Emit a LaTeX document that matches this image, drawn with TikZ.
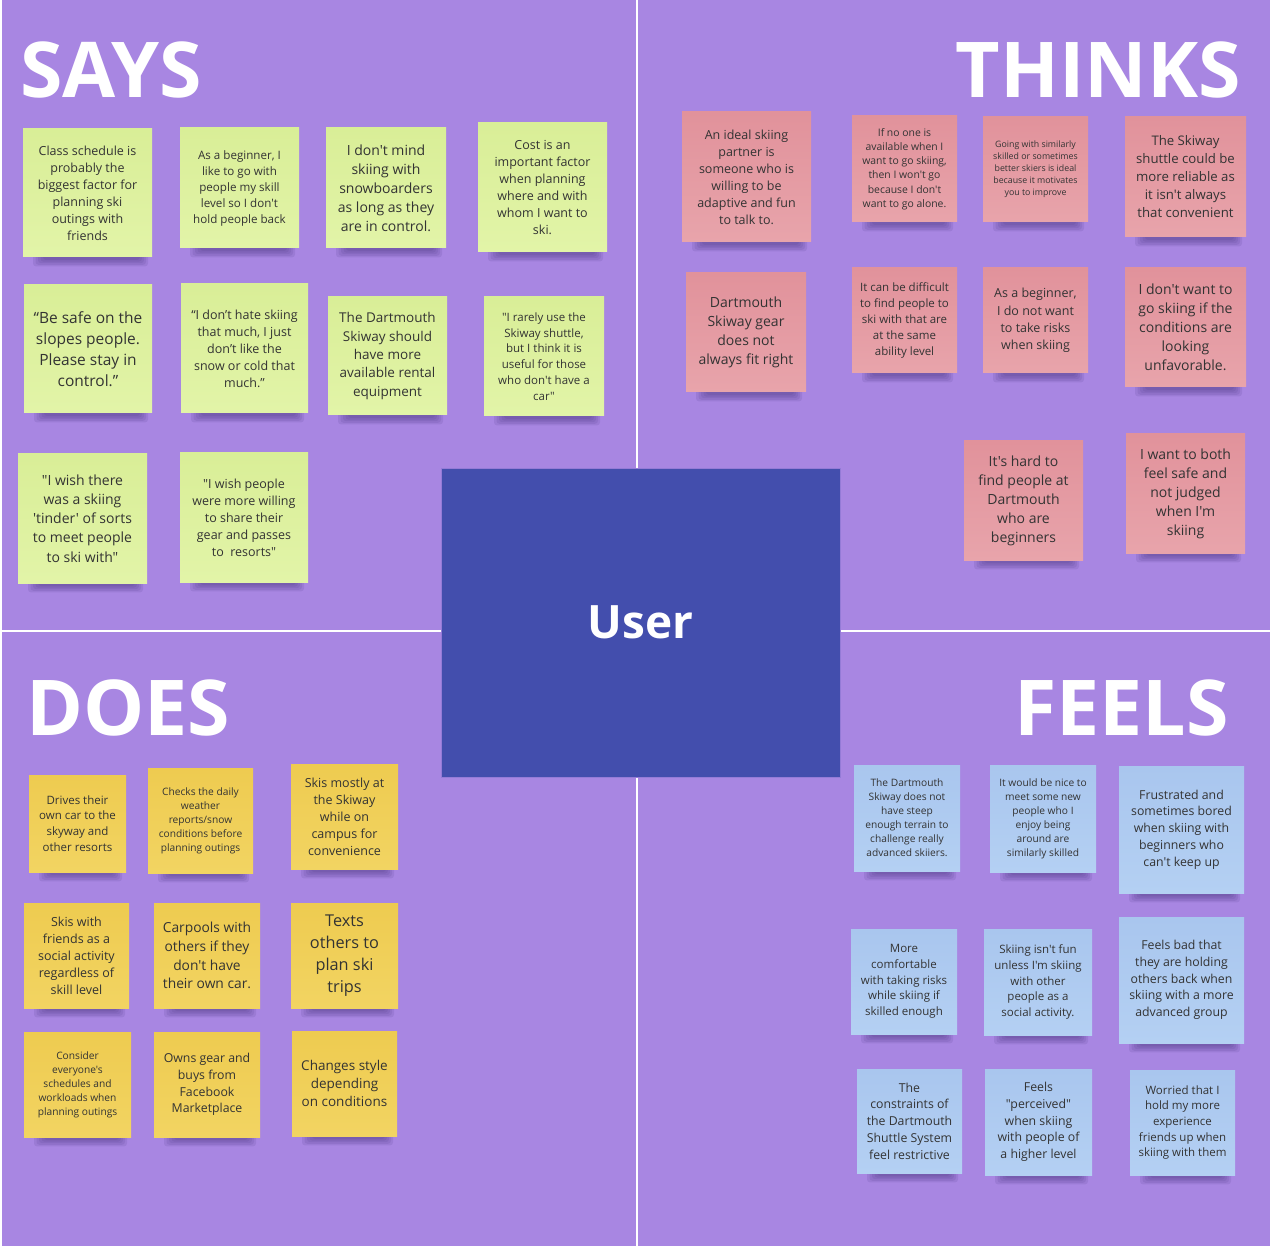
\documentclass[tikz,border=0pt]{standalone}
\usepackage{fontspec}
\setmainfont{Open Sans}[Ligatures=TeXOff]
\definecolor{bgp}{HTML}{A886E2}
\definecolor{userc}{HTML}{434EAD}
\definecolor{txt}{HTML}{333333}
\definecolor{shc}{HTML}{4A3580}
\definecolor{gT}{HTML}{D9EE97}
\definecolor{gB}{HTML}{E2F4A8}
\definecolor{pT}{HTML}{E1929B}
\definecolor{pB}{HTML}{E8A4AB}
\definecolor{yT}{HTML}{EECB50}
\definecolor{yB}{HTML}{F2D462}
\definecolor{bT}{HTML}{A9C6EE}
\definecolor{bB}{HTML}{B4D0F3}
\tikzset{
  note/.style={inner sep=0pt, align=center, text=txt},
  gnote/.style={note, top color=gT, bottom color=gB},
  pnote/.style={note, top color=pT, bottom color=pB},
  ynote/.style={note, top color=yT, bottom color=yB},
  bnote/.style={note, top color=bT, bottom color=bB},
  shadowlayer/.style={fill=shc, opacity=0.13, rounded corners=3pt},
  title/.style={inner sep=0pt, text=white, font=\fontsize{77}{90}\selectfont\bfseries},
  divider/.style={white, line width=2pt},
}
\newcommand\fz[2]{\fontsize{#1}{#2}\selectfont}
\newcommand\stk[8]{%
  \foreach \k in {0,...,4}{%
    \path[shadowlayer] ({#3+20-2.5*\k},{#6-4}) rectangle ({#5-12+2*\k},{#6+3+1.6*\k});
  }
  \node[#2, minimum width={#5-#3}, minimum height={#6-#4}, font=#7] (#1) at ({(#3+#5)/2},{(#4+#6)/2}) {#8};
}
\begin{document}
\begin{tikzpicture}[x=1pt, y=-1pt]
\useasboundingbox (0,0) rectangle (1270,1246);
\fill[bgp] (0,0) rectangle (1270,1246);
\fill[white] (0,0) rectangle (2,1246);
\draw[divider] (637,0) -- (637,1246);
\draw[divider] (0,630.5) -- (1270,630.5);

% titles
\node[title, anchor=base west] (says) at (20,98) {SAYS};
\node[title, anchor=base east] (thinks) at (1241,98) {THINKS};
\node[title, anchor=base west] (does) at (26,735) {DOES};
\node[title, anchor=base east] (feels) at (1229,735) {FEELS};

% user
\node[fill=userc, draw=bgp!80!userc, line width=0.6pt, minimum width=399, minimum height=309, inner sep=0pt,
      text=white, font=\fontsize{46}{50}\selectfont\bfseries] (user) at (640.5,622.5) {User};

% SAYS
\stk{s1}{gnote}{23}{129}{152}{257}{\fz{12.5}{17}}{Class schedule is\\probably the\\biggest factor for\\planning ski\\outings with\\friends}
\stk{s2}{gnote}{180}{128}{299}{248}{\fz{11.6}{16}}{As a beginner, I\\like to go with\\people my skill\\level so I don't\\hold people back}
\stk{s3}{gnote}{326}{128}{446}{248}{\fz{14}{19}}{I don't mind\\skiing with\\snowboarders\\as long as they\\are in control.}
\stk{s4}{gnote}{478}{123}{607}{252}{\fz{12.5}{17}}{Cost is an\\important factor\\when planning\\where and with\\whom I want to\\ski.}
\stk{s5}{gnote}{24}{285}{152}{413}{\fz{15.5}{21}}{“Be safe on the\\slopes people.\\Please stay in\\control.”}
\stk{s6}{gnote}{181}{284}{308}{413}{\fz{12.5}{17}}{“I don’t hate skiing\\that much, I just\\don’t like the\\snow or cold that\\much.”}
\stk{s7}{gnote}{328}{297}{447}{415}{\fz{13.5}{18.3}}{The Dartmouth\\Skiway should\\have more\\available rental\\equipment}
\stk{s8}{gnote}{484}{297}{604}{416}{\fz{11.5}{15.7}}{"I rarely use the\\Skiway shuttle,\\but I think it is\\useful for those\\who don't have a\\car"}
\stk{s9}{gnote}{18}{454}{147}{583}{\fz{14}{19.2}}{"I wish there\\was a skiing\\'tinder' of sorts\\to meet people\\to ski with"}
\stk{s10}{gnote}{180}{453}{308}{582}{\fz{12.5}{17}}{"I wish people\\were more willing\\to share their\\gear and passes\\to\ \ resorts"}

% THINKS
\stk{t1}{pnote}{682}{112}{811}{242}{\fz{12.5}{17}}{An ideal skiing\\partner is\\someone who is\\willing to be\\adaptive and fun\\to talk to.}
\stk{t2}{pnote}{852}{116}{957}{222}{\fz{10.4}{14.2}}{If no one is\\available when I\\want to go skiing,\\then I won't go\\because I don't\\want to go alone.}
\stk{t3}{pnote}{686}{273}{806}{392}{\fz{14}{19.2}}{Dartmouth\\Skiway gear\\does not\\always fit right}
\stk{t4}{pnote}{852}{268}{957}{373}{\fz{11.5}{16.2}}{It can be difficult\\to find people to\\ski with that are\\at the same\\ability level}
\stk{t5}{pnote}{983}{117}{1088}{222}{\fz{8.8}{12}}{Going with similarly\\skilled or sometimes\\better skiers is ideal\\because it motivates\\you to improve}
\stk{t6}{pnote}{1125}{117}{1246}{237}{\fz{13.2}{18}}{The Skiway\\shuttle could be\\more reliable as\\it isn't always\\that convenient}
\stk{t7}{pnote}{983}{268}{1088}{373}{\fz{12.5}{17.2}}{As a beginner,\\I do not want\\to take risks\\when skiing}
\stk{t8}{pnote}{1125}{268}{1246}{387}{\fz{14}{19}}{I don't want to\\go skiing if the\\conditions are\\looking\\unfavorable.}
\stk{t9}{pnote}{964}{441}{1083}{560}{\fz{14}{19}}{It's hard to\\find people at\\Dartmouth\\who are\\beginners}
\stk{t10}{pnote}{1126}{434}{1245}{553}{\fz{14}{19}}{I want to both\\feel safe and\\not judged\\when I'm\\skiing}

% DOES
\stk{d1}{ynote}{29}{775}{126}{872}{\fz{11.5}{15.7}}{Drives their\\own car to the\\skyway and\\other resorts}
\stk{d2}{ynote}{148}{768}{253}{873}{\fz{10.2}{14}}{Checks the daily\\weather\\reports/snow\\conditions before\\planning outings}
\stk{d3}{ynote}{291}{764}{398}{869}{\fz{12.5}{17}}{Skis mostly at\\the Skiway\\while on\\campus for\\convenience}
\stk{d4}{ynote}{24}{903}{129}{1008}{\fz{12.5}{17}}{Skis with\\friends as a\\social activity\\regardless of\\skill level}
\stk{d5}{ynote}{154}{903}{260}{1008}{\fz{13.8}{18.8}}{Carpools with\\others if they\\don't have\\their own car.}
\stk{d6}{ynote}{291}{903}{398}{1008}{\fz{16.3}{22.2}}{Texts\\others to\\plan ski\\trips}
\stk{d7}{ynote}{24}{1032}{131}{1137}{\fz{10.2}{14}}{Consider\\everyone's\\schedules and\\workloads when\\planning outings}
\stk{d8}{ynote}{154}{1032}{260}{1137}{\fz{12.3}{16.7}}{Owns gear and\\buys from\\Facebook\\Marketplace}
\stk{d9}{ynote}{292}{1031}{397}{1136}{\fz{13.5}{18.3}}{Changes style\\depending\\on conditions}

% FEELS
\stk{f1}{bnote}{854}{765}{960}{871}{\fz{10.2}{14}}{The Dartmouth\\Skiway does not\\have steep\\enough terrain to\\challenge really\\advanced skiiers.}
\stk{f2}{bnote}{990}{765}{1096}{872}{\fz{10.2}{14}}{It would be nice to\\meet some new\\people who I\\enjoy being\\around are\\similarly skilled}
\stk{f3}{bnote}{1119}{766}{1244}{893}{\fz{12.3}{16.7}}{Frustrated and\\sometimes bored\\when skiing with\\beginners who\\can't keep up}
\stk{f4}{bnote}{851}{929}{957}{1034}{\fz{11.5}{15.7}}{More\\comfortable\\with taking risks\\while skiing if\\skilled enough}
\stk{f5}{bnote}{984}{929}{1092}{1035}{\fz{11.5}{15.7}}{Skiing isn't fun\\unless I'm skiing\\with other\\people as a\\social activity.}
\stk{f6}{bnote}{1119}{917}{1244}{1043}{\fz{12.3}{16.6}}{Feels bad that\\they are holding\\others back when\\skiing with a more\\advanced group}
\stk{f7}{bnote}{857}{1069}{962}{1173}{\fz{12.3}{16.7}}{The\\constraints of\\the Dartmouth\\Shuttle System\\feel restrictive}
\stk{f8}{bnote}{985}{1069}{1092}{1175}{\fz{12.3}{16.7}}{Feels\\"perceived"\\when skiing\\with people of\\a higher level}
\stk{f9}{bnote}{1130}{1070}{1235}{1175}{\fz{11.5}{15.7}}{Worried that I\\hold my more\\experience\\friends up when\\skiing with them}
\end{tikzpicture}
\end{document}
